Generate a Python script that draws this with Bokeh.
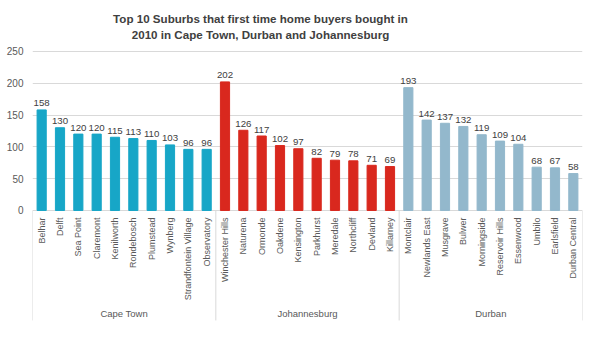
from math import pi
from bokeh.plotting import figure
from bokeh.models import FactorRange, Range1d, FixedTicker, Label, ColumnDataSource
from bokeh.transform import dodge
from bokeh.core.properties import value
from bokeh.embed import file_html
from bokeh.resources import INLINE

# ---------------- data ----------------
cities = ["Cape Town", "Johannesburg", "Durban"]
cape_town_suburbs = ["Belhar", "Delft", "Sea Point", "Claremont", "Kenilworth", "Rondebosch",
                     "Plumstead", "Wynberg", "Strandfontein Village", "Observatory"]
cape_town_values = [158, 130, 120, 120, 115, 113, 110, 103, 96, 96]
johannesburg_suburbs = ["Winchester Hills", "Naturena", "Ormonde", "Oakdene", "Kensington",
                        "Parkhurst", "Meredale", "Northcliff", "Devland", "Killarney"]
johannesburg_values = [202, 126, 117, 102, 97, 82, 79, 78, 71, 69]
durban_suburbs = ["Montclair", "Newlands East", "Musgrave", "Bulwer", "Morningside",
                  "Reservoir Hills", "Essenwood", "Umbilo", "Earlsfield", "Durban Central"]
durban_values = [193, 142, 137, 132, 119, 109, 104, 68, 67, 58]
city_colors = ["#17A6C7", "#D9281E", "#93B8CC"]
y_ticks = [0, 50, 100, 150, 200, 250]
title_lines = ["Top 10 Suburbs that first time home buyers bought in",
               "2010 in Cape Town, Durban and Johannesburg"]

# ---------------- styling / layout constants ----------------
FONT = "Liberation Sans"
Y_MIN, Y_MAX = -220.0, 329.9
GROUP_Y = -161.8
SEP_BOTTOM = -172.8
TITLE_Y = [301.2, 275.8]
TITLE_X_SCREEN = 228
GRID = "#d9d9d9"

suburb_lists = [cape_town_suburbs, johannesburg_suburbs, durban_suburbs]
value_lists = [cape_town_values, johannesburg_values, durban_values]

xf, vals, cols, names = [], [], [], []
for city, subs, vs, c in zip(cities, suburb_lists, value_lists, city_colors):
    for s, v in zip(subs, vs):
        xf.append((city, s))
        vals.append(v)
        cols.append(c)
        names.append(s)

src = ColumnDataSource(dict(xf=xf, value=vals, color=cols, name=names,
                            label=[str(v) for v in vals]))

x_range = FactorRange(*xf, range_padding=0, group_padding=0, subgroup_padding=0, factor_padding=0)

p = figure(width=587, height=350, x_range=x_range, y_range=Range1d(Y_MIN, Y_MAX),
           output_backend="svg", toolbar_location=None, x_axis_location=None,
           min_border_left=32, min_border_right=5, min_border_top=0, min_border_bottom=0)
p.outline_line_color = None
p.background_fill_color = "white"
p.border_fill_color = "white"

p.yaxis.ticker = FixedTicker(ticks=y_ticks)
p.yaxis.axis_line_color = None
p.yaxis.major_tick_line_color = None
p.yaxis.minor_tick_line_color = None
p.yaxis.major_tick_out = 0
p.yaxis.major_tick_in = 0
p.yaxis.major_label_standoff = 9
p.yaxis.major_label_text_font = FONT
p.yaxis.major_label_text_font_size = "10px"
p.yaxis.major_label_text_color = "#595959"

p.ygrid.ticker = FixedTicker(ticks=y_ticks)
p.ygrid.grid_line_color = GRID
p.xgrid.visible = False

# bars
p.vbar(x="xf", top="value", width=0.5, color="color", source=src)

# value labels
p.text(x="xf", y="value", text="label", source=src, text_align="center",
       text_baseline="bottom", y_offset=-3.5, text_font=value(FONT),
       text_font_size="9.7px", text_color="#404040")

# category labels
p.text(x="xf", y=0, text="name", source=src, angle=pi / 2, text_align="right",
       text_baseline="middle", y_offset=7, text_font=value(FONT),
       text_font_size="9px", text_color="#595959")

# separators
first_src = ColumnDataSource(dict(xf=[(c, subs[0]) for c, subs in zip(cities, suburb_lists)]))
last_src = ColumnDataSource(dict(xf=[(cities[-1], suburb_lists[-1][-1])]))
for s, off in ((first_src, -0.5), (last_src, 0.5)):
    p.segment(x0=dodge("xf", off, range=x_range), x1=dodge("xf", off, range=x_range),
              y0=0, y1=SEP_BOTTOM, source=s, line_color=GRID, line_width=1)

# group labels
gsrc = ColumnDataSource(dict(city=cities))
p.text(x="city", y=GROUP_Y, text="city", source=gsrc, text_align="center",
       text_baseline="middle", text_font=value(FONT), text_font_size="9.5px",
       text_color="#595959")

# title
for line, ty in zip(title_lines, TITLE_Y):
    p.add_layout(Label(x=TITLE_X_SCREEN, y=ty, x_units="screen", y_units="data", text=line,
                       text_align="center", text_baseline="middle", text_font=FONT,
                       text_font_style="bold", text_font_size="11.6px", text_color="#404040"))

open("out.html", "w").write(file_html(p, INLINE))
